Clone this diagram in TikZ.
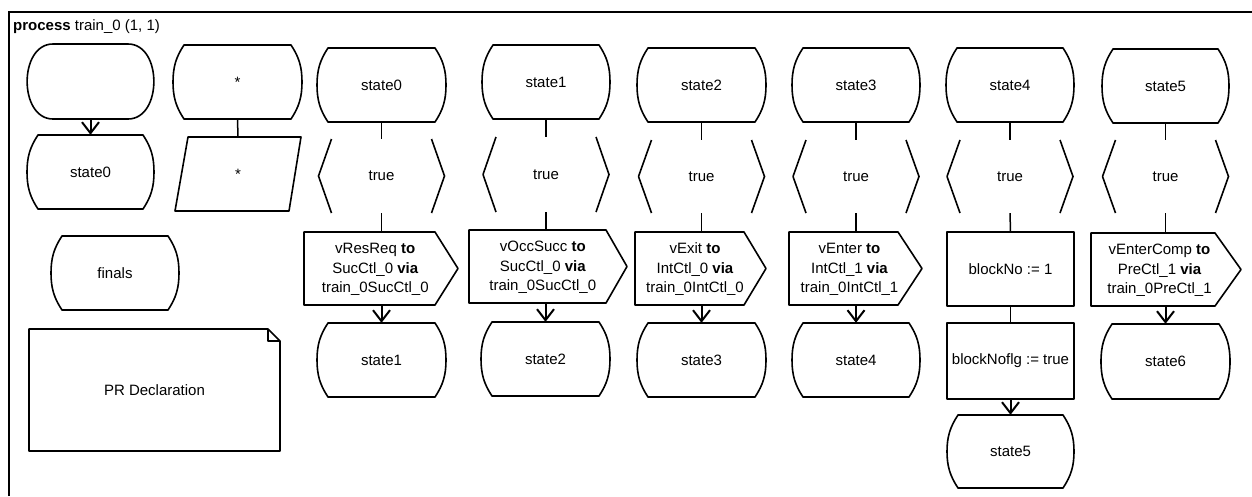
\documentclass[tikz,border=0pt]{standalone}
\usepackage{fontspec}
\setmainfont{Liberation Sans}
\usetikzlibrary{arrows.meta}
\tikzset{
  lbl/.style={inner sep=0pt, font=\fontsize{15}{19.5}\selectfont, align=center},
  shp/.style={line width=1.6pt, line join=round},
  conn/.style={line width=1.5pt},
  arr/.style={line width=2pt, -{Straight Barb[length=11pt,width=17pt,line width=2pt]}},
  frame/.style={line width=1.8pt},
}
\newcommand\barrel[6]{%
  \node[lbl, minimum width={(#4-#2)*1pt}, minimum height={(#5-#3)*1pt}] (#1) at ({(#2+#4)/2},{(#3+#5)/2}) {#6};
  \draw[shp] (#2+11,#3) -- (#4-11,#3) .. controls (#4-3,#3+12) and (#4,#3+22) .. (#4,{(#3+#5)/2})
     .. controls (#4,#5-22) and (#4-3,#5-12) .. (#4-11,#5) -- (#2+11,#5)
     .. controls (#2+3,#5-12) and (#2,#5-22) .. (#2,{(#3+#5)/2})
     .. controls (#2,#3+22) and (#2+3,#3+12) .. cycle;
}
\newcommand\inpsym[5]{%
  \node[lbl, minimum width=126pt, minimum height={(#4-#3)*1pt}] (#1) at (#2,{(#3+#4)/2}) {#5};
  \draw[shp] (#2-50,#3) -- (#2-63,{(#3+#4)/2}) -- (#2-50,#4);
  \draw[shp] (#2+50,#3) -- (#2+63,{(#3+#4)/2}) -- (#2+50,#4);
}
\newcommand\outsym[7]{%
  \node[lbl, minimum height={(#6-#5)*1pt}] (#1) at ({(#2+(#3+#4)/2)/2},{(#5+#6)/2+1}) {#7};
  \draw[shp] (#2,#5) -- (#3,#5) -- (#4,{(#5+#6)/2}) -- (#3,#6) -- (#2,#6) -- cycle;
}
\newcommand\tasksym[6]{%
  \node[lbl, minimum width={(#4-#2)*1pt}, minimum height={(#5-#3)*1pt}] (#1) at ({(#2+#4)/2},{(#3+#5)/2}) {#6};
  \draw[shp] (#2,#3) rectangle (#4,#5);
}
\begin{document}
\begin{tikzpicture}[x=1pt,y=-1pt]
\useasboundingbox (0,0) rectangle (1252,496);
% frame
\draw[frame] (9,496) -- (9,12) -- (1252,12);
\node[lbl, anchor=west] (title) at (13,27) {\textbf{process} train\_0 (1, 1)};

% start symbol
\node[lbl, minimum width=127pt, minimum height=75pt] (start) at (90.5,81.5) {};
\draw[shp] (53,44) -- (128,44) .. controls (162.5,44) and (162.5,119) .. (128,119)
  -- (53,119) .. controls (18.5,119) and (18.5,44) .. (53,44) -- cycle;
\barrel{st0}{27}{135}{154}{209}{state0}
\draw[arr] (start.south) -- (st0.north);

% star state and save
\barrel{star}{173}{45}{302}{119}{*}
\node[lbl, minimum width=114pt, minimum height=74pt] (par) at (238,174) {*};
\draw[shp] (188,137) -- (301,137) -- (289,211) -- (175,211) -- cycle;
\draw[conn] (star.south) -- (par.north);

% finals
\barrel{finals}{51}{236}{179}{310}{finals}

% PR declaration note
\node[lbl, minimum width=251pt, minimum height=122pt] (decl) at (154.5,390) {PR Declaration};
\draw[shp] (29,329) -- (268,329) -- (280,341) -- (280,451) -- (29,451) -- cycle;
\draw[shp] (268,329) -- (268,341) -- (280,341);

% column A
\barrel{sA}{317}{48}{446}{122}{state0}
\inpsym{iA}{381.5}{139}{213}{true}
\outsym{oA}{304}{435}{458}{232}{305}{vResReq \textbf{to}\\SucCtl\_0 \textbf{via}\\train\_0SucCtl\_0}
\barrel{bA}{317}{323}{446}{397}{state1}
\draw[conn] (sA.south) -- (iA.north);
\draw[conn] (iA.south) -- (iA.south |- oA.north);
\draw[arr] (bA.north |- oA.south) -- (bA.north);

% column B
\barrel{sB}{482}{45}{610}{119}{state1}
\inpsym{iB}{546}{137}{212}{true}
\outsym{oB}{469}{606}{627}{230}{303}{vOccSucc \textbf{to}\\SucCtl\_0 \textbf{via}\\train\_0SucCtl\_0}
\barrel{bB}{481}{322}{610}{396}{state2}
\draw[conn] (sB.south) -- (iB.north);
\draw[conn] (iB.south) -- (iB.south |- oB.north);
\draw[arr] (bB.north |- oB.south) -- (bB.north);

% column C
\barrel{sC}{637}{48}{766}{122}{state2}
\inpsym{iC}{701.5}{140}{213}{true}
\outsym{oC}{635}{744}{766}{232}{305}{vExit \textbf{to}\\IntCtl\_0 \textbf{via}\\train\_0IntCtl\_0}
\barrel{bC}{637}{323}{766}{397}{state3}
\draw[conn] (sC.south) -- (iC.north);
\draw[conn] (iC.south) -- (iC.south |- oC.north);
\draw[arr] (bC.north |- oC.south) -- (bC.north);

% column D
\barrel{sD}{792}{48}{920}{122}{state3}
\inpsym{iD}{856}{140}{213}{true}
\outsym{oD}{789}{898}{922}{232}{305}{vEnter \textbf{to}\\IntCtl\_1 \textbf{via}\\train\_0IntCtl\_1}
\barrel{bD}{792}{323}{920}{397}{state4}
\draw[conn] (sD.south) -- (iD.north);
\draw[conn] (iD.south) -- (iD.south |- oD.north);
\draw[arr] (bD.north |- oD.south) -- (bD.north);

% column E
\barrel{sE}{946}{48}{1074}{122}{state4}
\inpsym{iE}{1010}{140}{213}{true}
\tasksym{tE}{947}{232}{1074}{306}{blockNo := 1}
\tasksym{tF}{947}{323}{1074}{399}{blockNoflg := true}
\barrel{bE}{947}{415}{1074}{488}{state5}
\draw[conn] (sE.south) -- (iE.north);
\draw[conn] (iE.south) -- (tE.north);
\draw[conn] (tE.south) -- (tF.north);
\draw[arr] (tF.south) -- (bE.north);

% column F
\barrel{sF}{1102}{49}{1229}{123}{state5}
\inpsym{iF}{1165.5}{140}{213}{true}
\outsym{oF}{1091}{1215}{1241}{233}{306}{vEnterComp \textbf{to}\\PreCtl\_1 \textbf{via}\\train\_0PreCtl\_1}
\barrel{bF}{1101}{324}{1230}{399}{state6}
\draw[conn] (sF.south) -- (iF.north);
\draw[conn] (iF.south) -- (iF.south |- oF.north);
\draw[arr] (bF.north |- oF.south) -- (bF.north);
\end{tikzpicture}
\end{document}
